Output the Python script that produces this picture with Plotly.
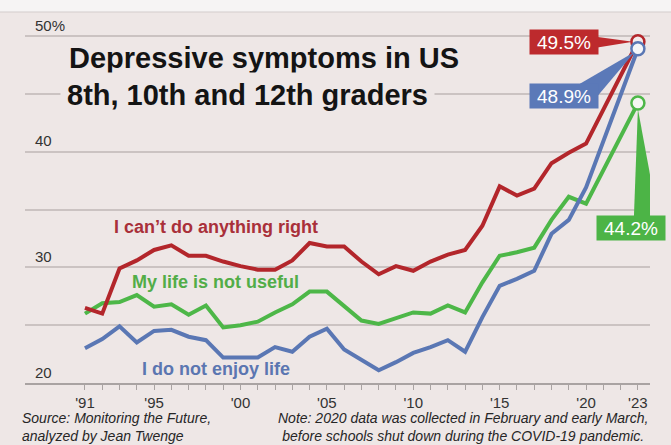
import plotly.graph_objects as go

# ---- data ----
years = [1991, 1992, 1993, 1994, 1995, 1996, 1997, 1998, 1999, 2000,
         2001, 2002, 2003, 2004, 2005, 2006, 2007, 2008, 2009, 2010,
         2011, 2012, 2013, 2014, 2015, 2016, 2017, 2018, 2019, 2020, 2023]

cant_do_right = [26.5, 26.0, 29.9, 30.6, 31.5, 31.9, 31.0, 31.0, 30.5, 30.1,
                 29.8, 29.8, 30.6, 32.1, 31.8, 31.8, 30.5, 29.4, 30.1, 29.7,
                 30.5, 31.1, 31.5, 33.6, 37.0, 36.2, 36.8, 39.0, 39.9, 40.7, 49.5]

life_not_useful = [26.0, 26.9, 27.0, 27.6, 26.6, 26.8, 25.9, 26.7, 24.8, 25.0,
                   25.3, 26.1, 26.8, 27.9, 27.9, 26.7, 25.4, 25.1, 25.6, 26.1,
                   26.0, 26.7, 26.1, 28.7, 31.0, 31.3, 31.7, 34.1, 36.1, 35.5, 44.2]

not_enjoy_life = [23.0, 23.8, 24.9, 23.5, 24.5, 24.6, 24.0, 23.7, 22.2, 22.2,
                  22.2, 23.1, 22.7, 24.0, 24.7, 22.9, 22.0, 21.1, 21.8, 22.6,
                  23.1, 23.7, 22.7, 25.7, 28.4, 29.0, 29.7, 32.9, 34.1, 36.9, 48.9]

series_names = ["I can\u2019t do anything right", "My life is not useful", "I do not enjoy life"]

x_tick_years = list(range(1991, 2024))
x_tick_labels = {1991: "'91", 1995: "'95", 2000: "'00", 2005: "'05",
                 2010: "'10", 2015: "'15", 2020: "'20", 2023: "'23"}
y_tick_vals = [20, 25, 30, 35, 40, 45, 50]
y_tick_text = ["20", "", "30", "", "40", "", "50%"]

# ---- styles ----
BG = "#eee7e6"
RED, GREEN, BLUE = "#b3262b", "#4db748", "#5a77b4"
RED_T, GREEN_T, BLUE_T = "#a9303a", "#52ad48", "#5b76b1"
RED_BOX, GREEN_BOX, BLUE_BOX = "#bd2a2d", "#4cb446", "#5b79b8"
FONT = "Liberation Sans, Arial, sans-serif"

# plot area: x 25..650 px, y 10..383 px  (50% gridline at 36 px)
T, B, L, R = 10, 62, 25, 21
H = 445 - T - B
PX_PER_UNIT = 11.567
Y_TOP = 20 + H / PX_PER_UNIT


def py(pix):
    """screen pixel row -> paper y"""
    return (445 - B - pix) / H


def px(pix):
    """screen pixel column -> paper x"""
    return (pix - L) / (671 - L - R)


fig = go.Figure()

lines = [(life_not_useful, GREEN), (cant_do_right, RED), (not_enjoy_life, BLUE)]
for vals, col in lines:
    fig.add_trace(go.Scatter(x=years, y=vals, mode="lines",
                             line=dict(color=col, width=4),
                             hoverinfo="skip", showlegend=False, cliponaxis=False))

for vals, col, fill in [(cant_do_right, RED, "#f3ecec"), (life_not_useful, GREEN, "#f4f7f1"),
                        (not_enjoy_life, BLUE, "#f4f5f8")]:
    fig.add_trace(go.Scatter(x=[years[-1]], y=[vals[-1]], mode="markers",
                             marker=dict(size=13, color=fill, line=dict(color=col, width=2.5)),
                             hoverinfo="skip", showlegend=False, cliponaxis=False))

# ---- callout wedges anchored at the last data points (pixel offsets) ----
wedges = [
    (cant_do_right, RED_BOX, "M -42,5 L -5,0 L -42,-6 Z"),
    (not_enjoy_life, BLUE_BOX, "M -58,-35 L -3,-3 L -41,-48 Z"),
    (life_not_useful, GREEN_BOX, "M -4,-114 L 0,-6 L 20,-114 Z"),
]
shapes = []
for vals, col, path in wedges:
    shapes.append(dict(type="path", xref="x", yref="y", xsizemode="pixel", ysizemode="pixel",
                       xanchor=years[-1], yanchor=vals[-1], path=path,
                       fillcolor=col, line=dict(width=0), layer="above"))
# light band at the very top of the picture
shapes.append(dict(type="rect", xref="paper", yref="paper", x0=-0.05, x1=1.05,
                   y0=py(12), y1=py(-2), fillcolor="#f6f4f4", line=dict(width=0), layer="below"))
shapes.append(dict(type="line", xref="paper", yref="paper", x0=-0.05, x1=1.05,
                   y0=py(12), y1=py(12), line=dict(color="#d3cdcc", width=1), layer="below"))

annotations = []
# value boxes
for vals, col, xs, ys in [(cant_do_right, RED_BOX, -74, 0),
                          (not_enjoy_life, BLUE_BOX, -74, -47),
                          (life_not_useful, GREEN_BOX, -7, -125)]:
    annotations.append(dict(x=years[-1], y=vals[-1], xref="x", yref="y",
                            text=f"{vals[-1]}%", showarrow=False,
                            xshift=xs, yshift=ys, width=64, height=20, borderpad=2,
                            bgcolor=col, font=dict(family=FONT, size=19, color="white")))

# title
annotations.append(dict(x=px(67), y=py(58), xref="paper", yref="paper", xanchor="left",
                        yanchor="middle", showarrow=False,
                        text="<b>Depressive symptoms in US</b>",
                        font=dict(family=FONT, size=29, color="#141414")))
annotations.append(dict(x=px(60), y=py(95), xref="paper", yref="paper", xanchor="left",
                        yanchor="middle", showarrow=False, bgcolor=BG, borderpad=6,
                        text="<b>8th, 10th and 12th graders</b>",
                        font=dict(family=FONT, size=29, color="#141414")))

# series labels
for name, col, lx, ly in [(series_names[0], RED_T, 216, 227),
                          (series_names[1], GREEN_T, 215.5, 282),
                          (series_names[2], BLUE_T, 215.5, 369)]:
    annotations.append(dict(x=px(lx), y=py(ly), xref="paper", yref="paper", showarrow=False,
                            xanchor="center", yanchor="middle", text=f"<b>{name}</b>",
                            font=dict(family=FONT, size=18, color=col)))

# footer
foot_font = dict(family=FONT, size=14, color="#262626")
annotations += [
    dict(x=px(20), y=py(427), xref="paper", yref="paper", xanchor="left", yanchor="middle",
         showarrow=False, align="left",
         text="<i>Source: Monitoring the Future,<br>analyzed by Jean Twenge</i>", font=foot_font),
    dict(x=px(463), y=py(427), xref="paper", yref="paper", xanchor="center", yanchor="middle",
         showarrow=False, align="center",
         text="<i>Note: 2020 data was collected in February and early March,<br>"
              "before schools shut down during the COVID-19 pandemic.</i>",
         font=foot_font),
]

fig.update_layout(
    width=671, height=445,
    margin=dict(l=L, r=R, t=T, b=B),
    paper_bgcolor=BG, plot_bgcolor=BG,
    shapes=shapes, annotations=annotations,
    font=dict(family=FONT),
)
fig.update_xaxes(range=[1987.53, 2023.70], tickmode="array", tickvals=x_tick_years,
                 ticktext=[x_tick_labels.get(y, "") for y in x_tick_years],
                 showgrid=False, zeroline=False, showline=True, linecolor="#a9a3a2", linewidth=1.5,
                 ticks="outside", ticklen=5, tickcolor="#a9a3a2", tickwidth=1,
                 tickfont=dict(family=FONT, size=15, color="#333333"))
fig.update_yaxes(range=[20, Y_TOP], tickmode="array", tickvals=y_tick_vals, ticktext=y_tick_text,
                 showgrid=True, gridcolor="#cbc3c2", gridwidth=1.5, zeroline=False, showline=False,
                 ticks="", ticklabelposition="inside top", ticklabelstandoff=7,
                 tickfont=dict(family=FONT, size=15, color="#333333"))

fig.write_html("out.html", config={"displayModeBar": False},
               post_script="document.body.style.margin='0';document.body.style.overflow='hidden';")
